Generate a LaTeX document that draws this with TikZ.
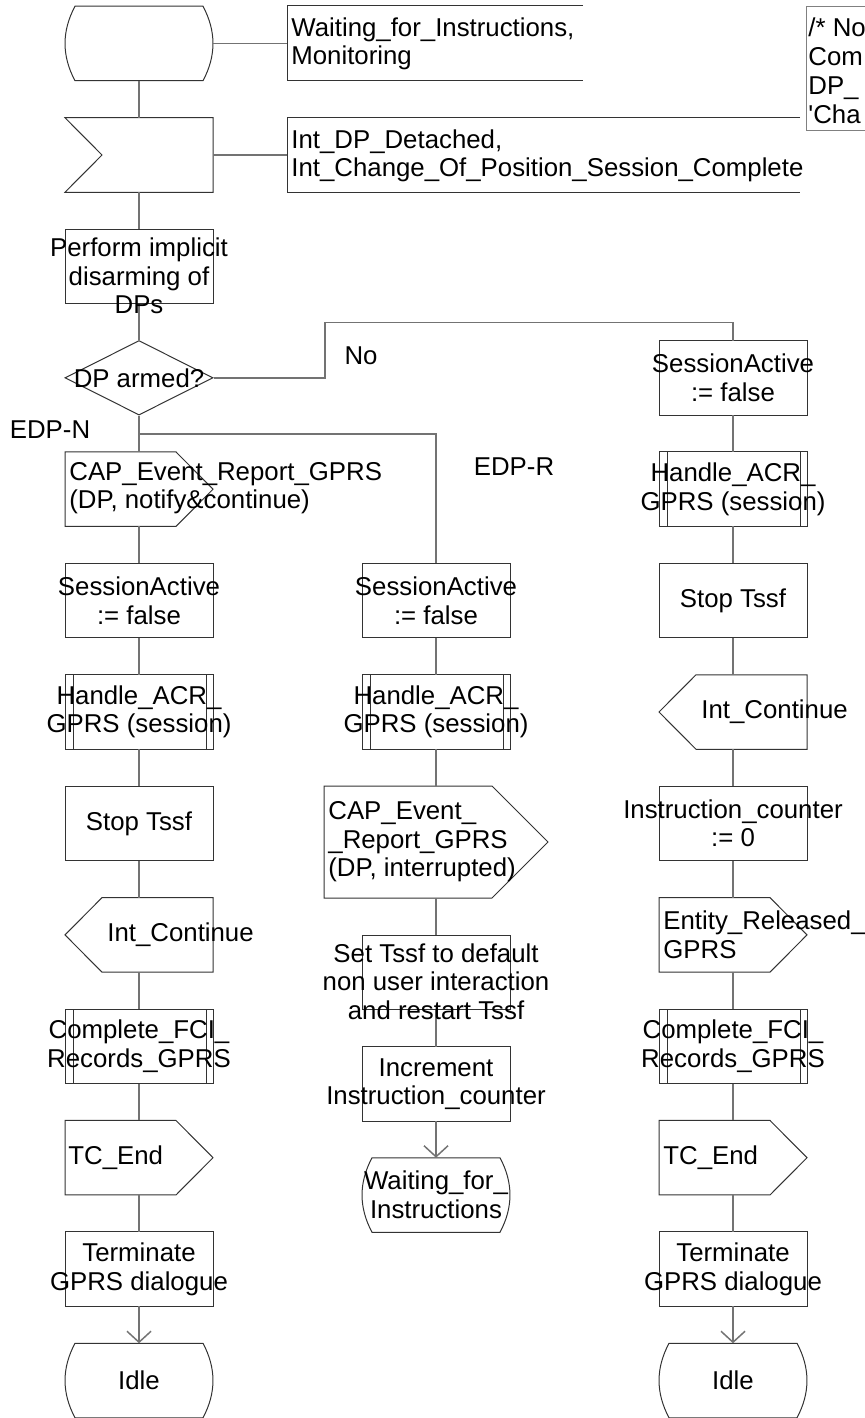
\documentclass[tikz,border=0pt]{standalone}
\usepackage{fontspec}
\setmainfont{Liberation Sans}
\usetikzlibrary{calc,shapes.geometric,arrows.meta}

\newcommand\lbfont{\fontsize{12.9pt}{14.25pt}\selectfont}

% SDL symbol outlines, drawn round a plain (undrawn) rectangle node
\newcommand\sdlstate[1]{%
  \draw[shp] ($(#1.north west)+(10,0)$) -- ($(#1.north east)+(-10,0)$)
    .. controls ($(#1.north east)+(3.3,25)$) and ($(#1.south east)+(3.3,-25)$) .. ($(#1.south east)+(-10,0)$)
    -- ($(#1.south west)+(10,0)$)
    .. controls ($(#1.south west)+(-3.3,-25)$) and ($(#1.north west)+(-3.3,25)$) .. cycle;}
\newcommand\sdlnotch[2]{%
  \draw[shp] (#1.north west) -- (#1.north east) -- (#1.south east) -- (#1.south west)
    -- ($(#1.west)+(#2,0)$) -- cycle;}
\newcommand\sdlsend[2]{%
  \draw[shp] (#1.north west) -- ($(#1.north east)+(-#2,0)$) -- (#1.east)
    -- ($(#1.south east)+(-#2,0)$) -- (#1.south west) -- cycle;}
\newcommand\sdlrecv[2]{%
  \draw[shp] (#1.west) -- ($(#1.north west)+(#2,0)$) -- (#1.north east)
    -- (#1.south east) -- ($(#1.south west)+(#2,0)$) -- cycle;}
\newcommand\sdlproc[1]{%
  \draw[shp] ($(#1.north west)+(8,0)$) -- ($(#1.south west)+(8,0)$)
             ($(#1.north east)+(-7,0)$) -- ($(#1.south east)+(-7,0)$);}
\newcommand\sdlbracket[1]{%
  \draw[shp] (#1.north east) -- (#1.north west) -- (#1.south west) -- (#1.south east);}

\begin{document}
\begin{tikzpicture}[x=0.5pt,y=-0.5pt,
  shp/.style={draw=black!80,line width=0.5pt},
  conn/.style={draw=black!55,line width=0.75pt},
  arr/.style={conn,-{Straight Barb[length=5.5pt,width=12pt]}},
  sym/.style={minimum width=74pt,minimum height=37.25pt,inner sep=0pt,outer sep=0pt},
  task/.style={sym,shp},
  proc/.style={sym,shp},
  txt/.style={font=\lbfont,align=center,inner sep=0pt},
  ltxt/.style={font=\lbfont,align=left,inner sep=0pt,anchor=west},
]
\useasboundingbox (0,0) rectangle (865,1418);
\clip (0,0) rectangle (865,1418);

% ---- column 1
\node[sym]  (s0)  at (139,43.5)   {};
\node[sym]  (in1) at (139,155)    {};
\node[task] (t1)  at (139,266.3)  {};
\node[diamond,shp,aspect=2,minimum width=74pt,minimum height=37.25pt,inner sep=0pt] (dia) at (139,377.8) {};
\node[sym]  (o1)  at (139,489.2)  {};
\node[task] (a1)  at (139,600.6)  {};
\node[proc] (p1)  at (139,712)    {};
\node[task] (b1)  at (139,823.4)  {};
\node[sym]  (r1)  at (139,934.9)  {};
\node[proc] (q1)  at (139,1046.3) {};
\node[sym]  (e1)  at (139,1157.7) {};
\node[task] (d1)  at (139,1269.1) {};
\node[sym]  (i1)  at (139,1380.5) {};

% ---- column 2
\node[task] (a2) at (436,600.6) {};
\node[proc] (p2) at (436,712)   {};
\node[sym,minimum width=112pt,minimum height=56pt] (o2) at (436,842) {};
\node[task] (t2) at (436,972.5) {};
\node[task] (n2) at (436,1084)  {};
\node[sym]  (w2) at (436,1195)  {};

% ---- column 3
\node[task] (a3) at (733,377.8)  {};
\node[proc] (p3) at (733,489.2)  {};
\node[task] (b3) at (733,600.6)  {};
\node[sym]  (r3) at (733,712)    {};
\node[task] (c3) at (733,823.4)  {};
\node[sym]  (o3) at (733,934.9)  {};
\node[proc] (q3) at (733,1046.3) {};
\node[sym]  (e3) at (733,1157.7) {};
\node[task] (d3) at (733,1269.1) {};
\node[sym]  (i3) at (733,1380.5) {};

% ---- text extensions and comment
\node[minimum width=148pt,minimum height=37.5pt,inner sep=0pt,outer sep=0pt] (x1) at (435,43.5) {};
\node[minimum width=256.5pt,minimum height=37pt,inner sep=0pt,outer sep=0pt] (x2) at (543.5,155) {};
\node[minimum width=50pt,minimum height=62pt,inner sep=0pt,outer sep=0pt] (cm) at (856,69) {};

% ---- outlines
\sdlstate{s0} \sdlnotch{in1}{37} \sdlsend{o1}{37} \sdlproc{p1} \sdlrecv{r1}{37}
\sdlproc{q1} \sdlsend{e1}{37} \sdlstate{i1}
\sdlproc{p2} \sdlsend{o2}{56} \sdlstate{w2}
\sdlproc{p3} \sdlrecv{r3}{37} \sdlsend{o3}{37} \sdlproc{q3} \sdlsend{e3}{37} \sdlstate{i3}
\sdlbracket{x1} \sdlbracket{x2}
\draw[draw=black!50,line width=0.5pt] (cm.north east) -- (cm.north west) -- (cm.south west) -- (cm.south east);

% ---- flow lines
\draw[conn] (s0.east) -- (x1.west);
\draw[conn] (in1.east) -- (x2.west);
\foreach \u/\v in {s0/in1,in1/t1,t1/dia,dia/o1,o1/a1,a1/p1,p1/b1,b1/r1,r1/q1,q1/e1,e1/d1,
                   a2/p2,p2/o2,o2/t2,t2/n2,
                   a3/p3,p3/b3,b3/r3,r3/c3,c3/o3,o3/q3,q3/e3,e3/d3}
  \draw[conn] (\u.south) -- (\v.north);
\draw[arr] (d1.south) -- (i1.north);
\draw[arr] (n2.south) -- (w2.north);
\draw[arr] (d3.south) -- (i3.north);
\coordinate (nob) at (325,322.7);
\draw[conn] (dia.east) -| (nob) -| (a3.north);
\coordinate (edp) at (139,434);
\draw[conn] (edp) -| (a2.north);

% ---- texts
\node[ltxt] (x1t) at (291,44)  {Waiting\_for\_Instructions,\\Monitoring};
\node[ltxt] (x2t) at (291,156) {Int\_DP\_Detached,\\Int\_Change\_Of\_Position\_Session\_Complete};
\node[ltxt,font=\fontsize{12.9pt}{14.5pt}\selectfont] (cmt) at (808,71) {/* No\\Com\\DP\_\\\textquotesingle Cha};

\node[txt]  (t1t) at (139,276)    {Perform implicit\\disarming of\\DPs};
\node[txt]  (diat) at (dia)       {DP armed?};
\node[ltxt] (o1t) at (69,488)     {CAP\_Event\_Report\_GPRS\\(DP, notify\&continue)};
\node[txt]  (a1t) at (a1)         {SessionActive\\:= false};
\node[txt]  (p1t) at (p1)         {Handle\_ACR\_\\GPRS (session)};
\node[txt]  (b1t) at (b1)         {Stop Tssf};
\node[ltxt] (r1t) at (107,934.9)  {Int\_Continue};
\node[txt]  (q1t) at (q1)         {Complete\_FCI\_\\Records\_GPRS};
\node[ltxt] (e1t) at (68,1157.7)  {TC\_End};
\node[txt]  (d1t) at (d1)         {Terminate\\GPRS dialogue};
\node[txt]  (i1t) at (i1)         {Idle};

\node[txt]  (a2t) at (a2)         {SessionActive\\:= false};
\node[txt]  (p2t) at (p2)         {Handle\_ACR\_\\GPRS (session)};
\node[ltxt] (o2t) at (328,842)    {CAP\_Event\_\\\_Report\_GPRS\\(DP, interrupted)};
\node[txt]  (t2t) at (436,981.5)  {Set Tssf to default\\non user interaction\\and restart Tssf};
\node[txt]  (n2t) at (n2)         {Increment\\Instruction\_counter};
\node[txt]  (w2t) at (w2)         {Waiting\_for\_\\Instructions};

\node[txt]  (a3t) at (a3)         {SessionActive\\:= false};
\node[txt]  (p3t) at (p3)         {Handle\_ACR\_\\GPRS (session)};
\node[txt]  (b3t) at (b3)         {Stop Tssf};
\node[ltxt] (r3t) at (701,712)    {Int\_Continue};
\node[txt]  (c3t) at (c3)         {Instruction\_counter\\:= 0};
\node[ltxt] (o3t) at (663,934.9)  {Entity\_Released\_\\GPRS};
\node[txt]  (q3t) at (q3)         {Complete\_FCI\_\\Records\_GPRS};
\node[ltxt] (e3t) at (663,1157.7) {TC\_End};
\node[txt]  (d3t) at (d3)         {Terminate\\GPRS dialogue};
\node[txt]  (i3t) at (i3)         {Idle};

% ---- branch labels
\node[txt] (lno)   at (361,356) {No};
\node[txt] (ledpn) at (50,430)  {EDP-N};
\node[txt] (ledpr) at (514,467) {EDP-R};
\end{tikzpicture}
\end{document}
